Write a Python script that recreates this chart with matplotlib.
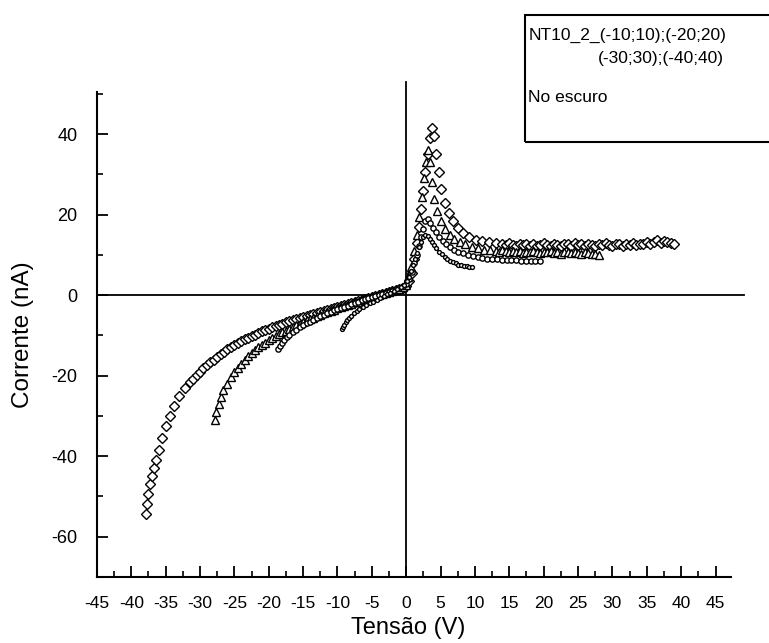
import numpy as np
import matplotlib.pyplot as plt
from matplotlib.patches import Rectangle
from matplotlib.ticker import MultipleLocator

# ====== CONFIG ======
OUT_PNG = "out.png"
plt.rcParams["font.family"] = ["Liberation Sans", "DejaVu Sans"]
plt.rcParams["axes.unicode_minus"] = False

# ====== DATA (I in nA, V in volts) ======
# sweep (-40;40) -> diamonds
v40 = [-37.8, -37.7, -37.5, -37.3, -37.0, -36.7, -36.4, -36.0, -35.5, -35.0,
       -34.4, -33.8, -33.0, -32.2, -31.4,
       -31.0, -30.5, -30.0, -29.5, -29.0, -28.5, -28.0, -27.5, -27.0, -26.5,
       -26.0, -25.5, -25.0, -24.5, -24.0, -23.5, -23.0, -22.5, -22.0, -21.5,
       -21.0, -20.5, -20.0, -19.5, -19.0, -18.5, -18.0, -17.5, -17.0, -16.5,
       -16.0, -15.5, -15.0, -14.5, -14.0, -13.5, -13.0, -12.5, -12.0, -11.5,
       -11.0, -10.5, -10.0, -9.5, -9.0, -8.5, -8.0, -7.5, -7.0, -6.5,
       -6.0, -5.5, -5.0, -4.5, -4.0, -3.5, -3.0, -2.5, -2.0, -1.5,
       -1.0, -0.5, 0.0,
       0.4, 0.8, 1.2, 1.6, 1.9, 2.2, 2.5, 2.8, 3.1, 3.4,
       3.7, 4.0, 4.3, 4.7, 5.1, 5.6, 6.2, 6.8, 7.5, 8.3,
       9.2, 10.1, 11.0, 12.0, 13.0, 14.0,
       14.5, 15.0, 15.5, 16.0, 16.5, 17.0, 17.5, 18.0, 18.5, 19.0,
       19.5, 20.0, 20.5, 21.0, 21.5, 22.0, 22.5, 23.0, 23.5, 24.0,
       24.5, 25.0, 25.5, 26.0, 26.5, 27.0, 27.5, 28.0, 28.5, 29.0,
       29.5, 30.0, 30.5, 31.0, 31.5, 32.0, 32.5, 33.0, 33.5, 34.0,
       34.5, 35.0, 35.5, 36.0, 36.5, 37.0, 37.5, 38.0, 38.5, 39.0]
i40 = [-54.5, -52.0, -49.5, -47.0, -45.0, -43.0, -41.0, -38.5, -35.5, -32.5,
       -30.0, -27.5, -25.0, -23.0, -21.5,
       -20.8, -19.9, -19.0, -18.2, -17.4, -16.7, -16.0, -15.3, -14.7, -14.1,
       -13.5, -13.0, -12.5, -12.0, -11.5, -11.0, -10.6, -10.2, -9.8, -9.4,
       -9.0, -8.7, -8.3, -8.0, -7.7, -7.4, -7.1, -6.8, -6.5, -6.2,
       -5.9, -5.7, -5.4, -5.2, -4.9, -4.7, -4.4, -4.2, -3.9, -3.7,
       -3.4, -3.2, -3.0, -2.8, -2.5, -2.3, -2.0, -1.8, -1.5, -1.3,
       -1.0, -0.8, -0.5, -0.3, 0.0, 0.2, 0.5, 0.7, 1.0, 1.2,
       1.5, 1.8, 2.3,
       3.5, 5.5, 9.0, 13.0, 17.0, 21.5, 26.0, 30.5, 35.0, 39.0,
       41.5, 39.5, 35.0, 30.5, 26.5, 23.0, 20.5, 18.5, 16.8, 15.5,
       14.5, 13.8, 13.4, 13.1, 12.9, 12.7,
       12.4, 12.9, 12.5, 12.2, 12.8, 12.4, 12.6, 12.1, 12.7, 12.3,
       12.5, 12.9, 12.4, 12.2, 12.7, 12.5, 12.3, 12.8, 12.6, 12.2,
       12.9, 12.4, 12.6, 12.3, 12.8, 12.5, 12.2, 12.7, 12.4, 12.9,
       12.5, 12.3, 12.8, 12.6, 12.2, 12.7, 12.5, 12.9, 12.4, 12.6,
       12.8, 13.1, 12.7, 13.3, 13.6, 13.0, 13.4, 13.2, 12.9, 12.8]

# sweep (-30;30) -> triangles
v30 = [-27.8, -27.6, -27.3, -27.0, -26.6, -26.1,
       -25.5, -25.0, -24.5, -24.0, -23.5, -23.0, -22.5, -22.0, -21.5, -21.0,
       -20.5, -20.0, -19.5, -19.0, -18.5, -18.0, -17.5, -17.0, -16.5, -16.0,
       -15.5, -15.0, -14.5, -14.0, -13.5, -13.0, -12.5, -12.0, -11.5, -11.0,
       -10.5, -10.0, -9.5, -9.0, -8.5, -8.0, -7.5, -7.0, -6.5, -6.0,
       -5.5, -5.0, -4.5, -4.0, -3.5, -3.0, -2.5, -2.0, -1.5, -1.0,
       -0.5, 0.0,
       0.3, 0.7, 1.1, 1.5, 1.9, 2.3, 2.6, 2.9, 3.2, 3.5,
       3.8, 4.1, 4.5, 5.0, 5.6, 6.3, 7.0, 7.8, 8.6, 9.5,
       10.4, 11.3, 12.2,
       13.0, 13.5, 14.0, 14.5, 15.0, 15.5, 16.0, 16.5, 17.0, 17.5,
       18.0, 18.5, 19.0, 19.5, 20.0, 20.5, 21.0, 21.5, 22.0, 22.5,
       23.0, 23.5, 24.0, 24.5, 25.0, 25.5, 26.0, 26.5, 27.0, 27.5, 28.0]
i30 = [-31.0, -29.0, -27.0, -25.3, -23.7, -22.0,
       -20.3, -19.1, -18.0, -17.0, -16.1, -15.2, -14.4, -13.7, -13.0, -12.3,
       -11.8, -11.2, -10.7, -10.2, -9.7, -9.2, -8.8, -8.3, -7.9, -7.5,
       -7.1, -6.7, -6.3, -5.9, -5.6, -5.2, -4.9, -4.5, -4.2, -3.9,
       -3.6, -3.3, -3.0, -2.7, -2.4, -2.1, -1.8, -1.6, -1.3, -1.0,
       -0.8, -0.5, -0.3, 0.0, 0.2, 0.5, 0.8, 1.0, 1.3, 1.6,
       2.0, 2.6,
       4.5, 7.0, 11.0, 15.0, 19.5, 24.5, 29.0, 33.0, 36.0, 33.0,
       28.0, 24.0, 21.0, 18.5, 16.5, 15.0, 14.0, 13.2, 12.6, 12.0,
       11.6, 11.3, 11.1,
       11.0, 10.8, 11.2, 10.9, 10.6, 11.0, 10.7, 10.9, 10.5, 10.8,
       10.6, 11.0, 10.7, 10.4, 10.8, 10.6, 10.9, 10.5, 10.7, 10.3,
       10.6, 10.8, 10.4, 10.7, 10.5, 10.2, 10.6, 10.4, 10.1, 10.3, 10.0]

# sweep (-20;20) -> small circles
v20 = [-18.6, -18.4, -18.1, -17.8, -17.4, -17.0, -16.5, -16.0, -15.5, -15.0,
       -14.5, -14.0, -13.5, -13.0, -12.5, -12.0, -11.5, -11.0, -10.5, -10.0,
       -9.5, -9.0, -8.5, -8.0, -7.5, -7.0, -6.5, -6.0, -5.5, -5.0,
       -4.5, -4.0, -3.5, -3.0, -2.5, -2.0, -1.5, -1.0, -0.5, 0.0,
       0.4, 0.8, 1.2, 1.5, 1.8, 2.1, 2.4, 2.8, 3.1, 3.5,
       3.9, 4.3, 4.8, 5.3, 5.8, 6.4, 7.0, 7.6, 8.3, 9.0,
       9.7, 10.4, 11.1, 11.8, 12.5, 13.2, 13.9, 14.6, 15.3, 16.0,
       16.7, 17.4, 18.1, 18.8, 19.5]
i20 = [-13.5, -12.7, -11.9, -11.2, -10.5, -9.9, -9.2, -8.6, -8.0, -7.5,
       -7.0, -6.6, -6.1, -5.7, -5.3, -4.9, -4.5, -4.2, -3.8, -3.5,
       -3.2, -2.9, -2.6, -2.2, -1.9, -1.6, -1.3, -1.0, -0.8, -0.5,
       -0.3, 0.0, 0.3, 0.5, 0.8, 1.1, 1.4, 1.8, 2.2, 2.8,
       4.0, 5.8, 8.0, 10.0, 12.3, 14.5, 16.5, 18.5, 19.0, 18.0,
       16.8, 15.6, 14.5, 13.5, 12.7, 12.0, 11.3, 10.8, 10.4, 10.0,
       9.7, 9.5, 9.3, 9.1, 9.0, 8.9, 8.8, 8.8, 8.7, 8.7,
       8.6, 8.6, 8.5, 8.5, 8.5]

# sweep (-10;10) -> dots
v10 = [-9.3, -9.2, -9.0, -8.8, -8.6, -8.3, -8.0, -7.6, -7.2, -6.8,
       -6.3, -5.8, -5.3, -4.8, -4.3, -3.8, -3.3, -2.8, -2.3, -1.8,
       -1.3, -0.8, -0.3,
       0.1, 0.4, 0.7, 1.0, 1.3, 1.6, 1.9, 2.2, 2.5, 2.8,
       3.1, 3.4, 3.7, 4.0, 4.4, 4.8, 5.2, 5.6, 6.0, 6.4,
       6.8, 7.2, 7.6, 8.0, 8.4, 8.8, 9.2, 9.6]
i10 = [-8.5, -8.0, -7.4, -6.8, -6.2, -5.6, -5.1, -4.5, -4.0, -3.5,
       -3.0, -2.5, -2.0, -1.6, -1.1, -0.7, -0.3, 0.2, 0.6, 1.0,
       1.5, 2.0, 2.6,
       3.4, 4.6, 6.0, 7.5, 9.0, 10.5, 12.0, 13.3, 14.4, 15.0,
       14.8, 14.0, 13.2, 12.4, 11.6, 10.8, 10.1, 9.5, 9.0, 8.6,
       8.2, 7.9, 7.6, 7.4, 7.3, 7.2, 7.1, 7.0]

# ====== FIGURE ======
fig = plt.figure(figsize=(7.69, 6.43), dpi=100)
ax = fig.add_axes([0.126, 0.103, 0.825, 0.754])

mk = dict(linestyle="none", markerfacecolor="white", markeredgecolor="black",
          markeredgewidth=1.0)
ax.plot(v40, i40, marker="D", markersize=5.0, **mk)
ax.plot(v30, i30, marker="^", markersize=5.5, **mk)
ax.plot(v20, i20, marker="o", markersize=3.8, **mk)
ax.plot(v10, i10, marker="o", markersize=2.8, **mk)

# zero lines crossing the plot
ax.axhline(0, xmin=0, xmax=1.02, color="black", lw=1.3, clip_on=False, zorder=0)
ax.axvline(0, ymin=0, ymax=1.02, color="black", lw=1.3, clip_on=False, zorder=0)

ax.set_xlim(-45, 47.3)
ax.set_ylim(-70, 50.5)

for s in ["top", "right"]:
    ax.spines[s].set_visible(False)
for s in ["left", "bottom"]:
    ax.spines[s].set_linewidth(1.5)

ax.xaxis.set_major_locator(MultipleLocator(5))
ax.xaxis.set_minor_locator(MultipleLocator(2.5))
ax.yaxis.set_major_locator(MultipleLocator(20))
ax.yaxis.set_minor_locator(MultipleLocator(10))
ax.tick_params(which="major", direction="in", length=8, width=1.3, labelsize=12.5)
ax.tick_params(which="minor", direction="in", length=4, width=1.2)
ax.tick_params(axis="x", which="major", pad=14)
ax.tick_params(axis="y", which="major", pad=14, labelsize=13)

ax.set_xlabel("Tensão (V)", fontsize=17)
ax.set_ylabel("Corrente (nA)", fontsize=17.5)
ax.xaxis.set_label_coords(0.49, -0.083)
ax.yaxis.set_label_coords(-0.099, 0.5)

# ====== LEGEND BOX (top right, cut by the page edge) ======
fig.patches.append(Rectangle((0.683, 0.779), 0.33, 0.198, transform=fig.transFigure,
                             fill=False, edgecolor="black", lw=1.5, clip_on=False))
fig.text(0.687, 0.945, "NT10_2_(-10;10);(-20;20)", fontsize=12.5, va="center")
fig.text(0.778, 0.909, "(-30;30);(-40;40)", fontsize=12.5, va="center")
fig.text(0.687, 0.849, "No escuro", fontsize=12.5, va="center")

fig.savefig(OUT_PNG, dpi=100)
